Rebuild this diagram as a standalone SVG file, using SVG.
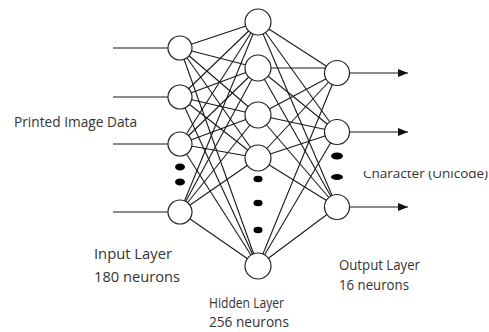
<svg xmlns="http://www.w3.org/2000/svg" width="489" height="332" viewBox="0 0 489 332">
<style>
.n{fill:#fff;stroke:#222;stroke-width:1.2}
.c line{stroke:#1a1a1a;stroke-width:1.1}
.d{fill:#000}
.t{font-family:"Open Sans","Liberation Sans",sans-serif;font-size:14px;fill:#333}
</style>
<defs>
<marker id="ah" viewBox="0 0 10 8" refX="10" refY="4" markerWidth="10" markerHeight="8" markerUnits="userSpaceOnUse" orient="auto">
<path d="M0,0 L10,4 L0,8 z" fill="#111"/>
</marker>
<clipPath id="cl"><rect x="355" y="171" width="134" height="20"/></clipPath>
</defs>
<rect width="489" height="332" fill="#fff"/>
<g id="connectors" class="c">
<line x1="113" y1="48" x2="168" y2="48"/>
<line x1="113" y1="97" x2="168" y2="97"/>
<line x1="113" y1="144" x2="168" y2="144"/>
<line x1="113" y1="212" x2="168" y2="212"/>
<line x1="180" y1="48" x2="258" y2="22"/>
<line x1="180" y1="48" x2="258" y2="68"/>
<line x1="180" y1="48" x2="258" y2="115"/>
<line x1="180" y1="48" x2="258" y2="158"/>
<line x1="180" y1="48" x2="258" y2="266"/>
<line x1="180" y1="97" x2="258" y2="22"/>
<line x1="180" y1="97" x2="258" y2="68"/>
<line x1="180" y1="97" x2="258" y2="115"/>
<line x1="180" y1="97" x2="258" y2="158"/>
<line x1="180" y1="97" x2="258" y2="266"/>
<line x1="180" y1="144" x2="258" y2="22"/>
<line x1="180" y1="144" x2="258" y2="68"/>
<line x1="180" y1="144" x2="258" y2="115"/>
<line x1="180" y1="144" x2="258" y2="158"/>
<line x1="180" y1="144" x2="258" y2="266"/>
<line x1="180" y1="212" x2="258" y2="22"/>
<line x1="180" y1="212" x2="258" y2="68"/>
<line x1="180" y1="212" x2="258" y2="115"/>
<line x1="180" y1="212" x2="258" y2="158"/>
<line x1="180" y1="212" x2="258" y2="266"/>
<line x1="258" y1="22" x2="337" y2="73"/>
<line x1="258" y1="22" x2="337" y2="132"/>
<line x1="258" y1="22" x2="337" y2="207"/>
<line x1="258" y1="68" x2="330" y2="68"/>
<line x1="258" y1="68" x2="337" y2="132"/>
<line x1="258" y1="68" x2="337" y2="207"/>
<line x1="258" y1="115" x2="337" y2="73"/>
<line x1="258" y1="115" x2="337" y2="132"/>
<line x1="258" y1="115" x2="337" y2="207"/>
<line x1="258" y1="158" x2="337" y2="73"/>
<line x1="258" y1="158" x2="337" y2="132"/>
<line x1="258" y1="158" x2="337" y2="207"/>
<line x1="258" y1="266" x2="337" y2="73"/>
<line x1="258" y1="266" x2="337" y2="132"/>
<line x1="258" y1="266" x2="337" y2="207"/>
<line x1="350" y1="73" x2="408" y2="73" marker-end="url(#ah)"/>
<line x1="350" y1="132" x2="408" y2="132" marker-end="url(#ah)"/>
<line x1="350" y1="207" x2="408" y2="207" marker-end="url(#ah)"/>
</g>
<g id="input-1"><circle class="n" cx="180" cy="48" r="12"/></g>
<g id="input-2"><circle class="n" cx="180" cy="97" r="12"/></g>
<g id="input-3"><circle class="n" cx="180" cy="144" r="12"/></g>
<g id="input-4"><circle class="n" cx="180" cy="212" r="12"/></g>
<g id="hidden-1"><circle class="n" cx="258" cy="22" r="13"/></g>
<g id="hidden-2"><circle class="n" cx="258" cy="68" r="13"/></g>
<g id="hidden-3"><circle class="n" cx="258" cy="115" r="13"/></g>
<g id="hidden-4"><circle class="n" cx="258" cy="158" r="13"/></g>
<g id="hidden-5"><circle class="n" cx="258" cy="266" r="13"/></g>
<g id="output-1"><circle class="n" cx="337" cy="73" r="12.5"/></g>
<g id="output-2"><circle class="n" cx="337" cy="132" r="12.5"/></g>
<g id="output-3"><circle class="n" cx="337" cy="207" r="12.5"/></g>
<g id="dots">
<ellipse class="d" cx="180" cy="167" rx="5" ry="3.5"/>
<ellipse class="d" cx="180" cy="182" rx="5" ry="3.5"/>
<ellipse class="d" cx="258" cy="179" rx="4.5" ry="3.2"/>
<ellipse class="d" cx="258" cy="203" rx="4.5" ry="3.2"/>
<ellipse class="d" cx="258" cy="230" rx="4.5" ry="3.2"/>
<ellipse class="d" cx="337" cy="156" rx="6" ry="3.5"/>
<ellipse class="d" cx="337" cy="177" rx="6" ry="3"/>
</g>
<g id="labels">
<text class="t" x="14" y="127" textLength="123" lengthAdjust="spacingAndGlyphs">Printed Image Data</text>
<text class="t" x="363" y="178" clip-path="url(#cl)" style="font-size:13.5px">Character (Unicode)</text>
<text class="t" x="94" y="259" textLength="78" lengthAdjust="spacingAndGlyphs">Input Layer</text>
<text class="t" x="94" y="282" textLength="86" lengthAdjust="spacingAndGlyphs">180 neurons</text>
<text class="t" x="209" y="308" textLength="75" lengthAdjust="spacingAndGlyphs">Hidden Layer</text>
<text class="t" x="209" y="327" textLength="80" lengthAdjust="spacingAndGlyphs">256 neurons</text>
<text class="t" x="339" y="270" textLength="81" lengthAdjust="spacingAndGlyphs">Output Layer</text>
<text class="t" x="339" y="290" textLength="70" lengthAdjust="spacingAndGlyphs">16 neurons</text>
</g>
</svg>
